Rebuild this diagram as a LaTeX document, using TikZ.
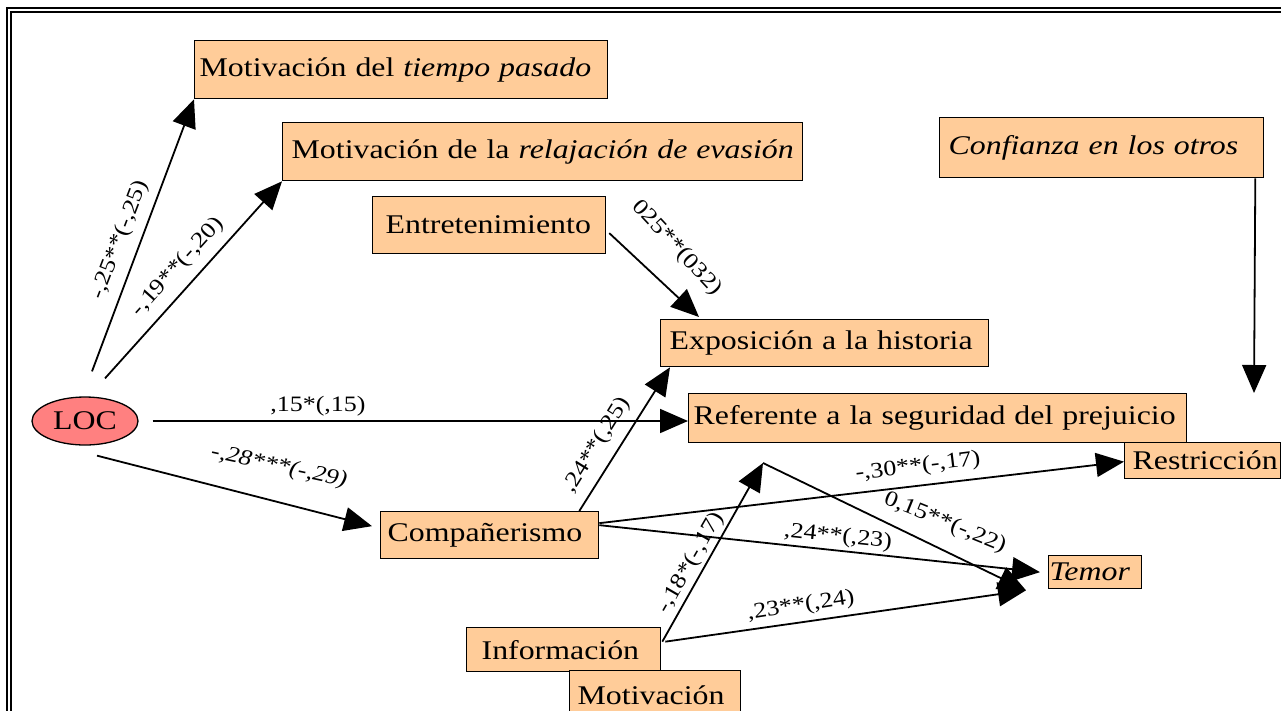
\documentclass[tikz,border=0pt]{standalone}
\usepackage{fontspec}
\setmainfont{Liberation Serif}[FakeStretch=1.18]
\usetikzlibrary{arrows.meta,shapes.geometric}
\definecolor{peach}{HTML}{FFCC99}
\definecolor{locred}{HTML}{FF8080}
\tikzset{
  bx/.style={draw=black, fill=peach, line width=1.3pt, anchor=north west, inner ysep=0pt, align=left, font=\fontsize{27}{32}\selectfont},
  arr/.style={line width=1.8pt, -{Triangle[length=28pt,width=24pt]}},
  lbl/.style={font=\fontsize{22}{26}\selectfont, inner sep=0pt},
  frameline/.style={line width=1.3pt},
}
\begin{document}
\begin{tikzpicture}[x=1pt,y=-1pt]
\clip (0,0) rectangle (1281,710);
\draw[frameline] (7,714) -- (7,8) -- (1285,8);
\draw[frameline] (11,714) -- (11,12) -- (1285,12);

% boxes
\node[bx, inner xsep=5pt, text width=403pt, minimum height=58pt] (tp) at (194,40) {\mbox{Motivación del \textit{tiempo pasado}}};
\node[bx, inner xsep=9pt, text width=502pt, minimum height=58pt] (rel) at (282,122) {\mbox{Motivación de la \textit{relajación de evasión}}};
\node[bx, inner xsep=13pt, text width=207pt, minimum height=57pt] (ent) at (372,196) {\mbox{Entretenimiento}};
\node[bx, inner xsep=9pt, text width=306pt, minimum height=60pt] (conf) at (939,117) {\mbox{\textit{Confianza en los otros}}};
\node[bx, inner xsep=9pt, text width=310pt, minimum height=47pt] (exp) at (660,319) {\mbox{Exposición a la historia}};
\node[bx, inner xsep=5pt, text width=488pt, minimum height=49pt] (ref) at (688,393) {\mbox{Referente a la seguridad del prejuicio}};
\node[bx, inner xsep=8pt, text width=140pt, minimum height=36pt] (res) at (1124,442) {\mbox{Restricción}};
\node[bx, inner xsep=1pt, text width=91pt, minimum height=33pt] (tem) at (1048,555) {\mbox{\textit{Temor}}};
\node[bx, inner xsep=7pt, text width=204pt, minimum height=47pt] (comp) at (380,511) {\mbox{Compañerismo}};
\node[bx, inner xsep=15pt, text width=164pt, minimum height=44pt] (inf) at (466,627) {\mbox{Información}};
\node[bx, inner xsep=8pt, text width=155pt, minimum height=50pt] (mot) at (569,670) {\mbox{Motivación}};

\node[ellipse, draw=black, fill=locred, line width=1.3pt, minimum width=106pt, minimum height=48pt, inner sep=0pt, font=\fontsize{27}{32}\selectfont] (LOC) at (85,421) {LOC};

\coordinate (cend) at (1254,393);
\coordinate (bend) at (763,463);

% connectors
\draw[arr] ([shift={(7,-25)}]LOC.north) -- (tp.south west);
\draw[arr] ([shift={(20,-18)}]LOC.north) -- (rel.south west);
\draw[arr] ([shift={(3,8)}]ent.east) -- ([shift={(39,-2)}]exp.north west);
\draw[arr] ([shift={(-9,0)}]conf.south east) -- (cend);
\draw[arr] ([shift={(14,0)}]LOC.east) -- (LOC.east -| ref.west);
\draw[arr] ([shift={(12,10)}]LOC.south) -- ([shift={(-8,-9)}]comp.west);
\draw[arr] ([shift={(-20,0)}]comp.north east) -- ([shift={(10,0)}]exp.south west);
\draw[arr] ([shift={(0,-12)}]comp.east) -- ([shift={(0,1)}]res.west);
\draw[arr] ([shift={(0,-10)}]comp.east) -- ([shift={(-8,0)}]tem.west);
\draw[arr] ([shift={(1,-8)}]inf.east) -- (bend);
\draw[arr] (bend) -- ([shift={(-22,1)}]tem.south west);
\draw[arr] ([shift={(4,-8)}]inf.east) -- ([shift={(-22,1)}]tem.south west);

% labels
\node[lbl, rotate=69] (l1) at (120,240) {-,25**(-,25)};
\node[lbl, rotate=48] (l2) at (178,267) {-,19**(-,20)};
\node[lbl, rotate=-47] (l3) at (677,248) {025**(032)};
\node[lbl] (l4) at (318,406) {,15*(,15)};
\node[lbl, rotate=-12] (l5) at (279,467) {\itshape -,28***(-,29)};
\node[lbl, rotate=58] (l6) at (597,445) {,24**(,25)};
\node[lbl, rotate=7] (l7) at (918,467) {-,30**(-,17)};
\node[lbl, rotate=-22] (l8) at (945,523) {0,15**(-,22)};
\node[lbl, rotate=-6] (l9) at (838,537) {,24**(,23)};
\node[lbl, rotate=60] (l10) at (691,563) {-,18*(-,17)};
\node[lbl, rotate=9] (l11) at (801,606) {,23**(,24)};
\end{tikzpicture}
\end{document}
